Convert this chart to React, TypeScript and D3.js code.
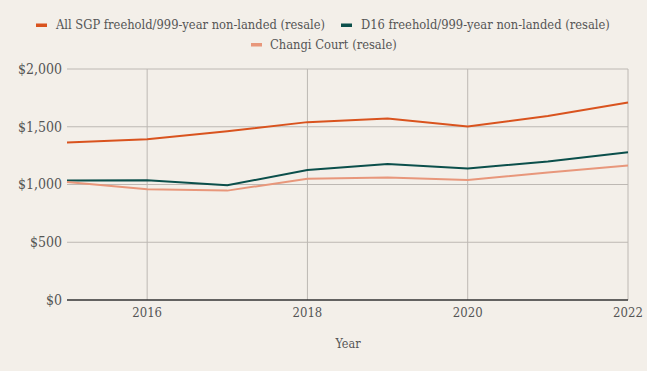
import React from "react";
import * as d3 from "d3";

const years = [2015, 2016, 2017, 2018, 2019, 2020, 2021, 2022];
const allSgp = [1363, 1392, 1462, 1540, 1571, 1502, 1594, 1710];
const d16 = [1034, 1037, 994, 1125, 1178, 1138, 1200, 1280];
const changi = [1022, 959, 947, 1050, 1060, 1040, 1103, 1164];
const yTicks = [0, 500, 1000, 1500, 2000];
const xTicks = [2016, 2018, 2020, 2022];

const seriesNames = [
  "All SGP freehold/999-year non-landed (resale)",
  "D16 freehold/999-year non-landed (resale)",
  "Changi Court (resale)",
];
const seriesColors = ["#d9531e", "#0b4f4b", "#e8977b"];

const W = 647;
const H = 371;
const FONT = "'DejaVu Serif Condensed', 'DejaVu Serif', serif";

export default function App() {
  const x = d3.scaleLinear().domain([2015, 2022]).range([67, 628]);
  const y = d3.scaleLinear().domain([0, 2000]).range([300, 69]);
  const seriesData = [allSgp, d16, changi];
  const line = d3
    .line<number>()
    .x((_, i) => x(years[i]))
    .y((v) => y(v));
  const fmt = (v: number) => "$" + d3.format(",")(v);

  const legendItems = [
    { i: 0, mx: 36, tx: 56, ty: 25 },
    { i: 1, mx: 341, tx: 361, ty: 25 },
    { i: 2, mx: 251, tx: 270, ty: 44.5 },
  ];

  return (
    <svg
      width={W}
      height={H}
      style={{ position: "absolute", left: 0, top: 0, background: "#f3efe9" }}
    >
      <rect x={0} y={0} width={W} height={H} fill="#f3efe9" />
      {yTicks.map((t) => (
        <g key={"y" + t}>
          {t !== 0 && (
            <line x1={67} x2={628} y1={y(t)} y2={y(t)} stroke="#bdb8b3" strokeWidth={1} />
          )}
          <text
            x={62}
            y={y(t)}
            dy="0.35em"
            textAnchor="end"
            fontFamily={FONT}
            fontSize={14}
            fill="#555"
          >
            {fmt(t)}
          </text>
        </g>
      ))}
      {xTicks.map((t) => (
        <g key={"x" + t}>
          <line x1={x(t)} x2={x(t)} y1={69} y2={300} stroke="#bdb8b3" strokeWidth={1} />
          <text
            x={x(t)}
            y={317}
            textAnchor="middle"
            fontFamily={FONT}
            fontSize={13}
            fill="#555"
          >
            {t}
          </text>
        </g>
      ))}
      <line x1={67} x2={628} y1={y(0)} y2={y(0)} stroke="#333" strokeWidth={1.5} />
      {seriesData.map((d, i) => (
        <path
          key={"s" + i}
          d={line(d) || ""}
          fill="none"
          stroke={seriesColors[i]}
          strokeWidth={2}
        />
      ))}
      <text
        x={348}
        y={348}
        textAnchor="middle"
        fontFamily={FONT}
        fontSize={12.5}
        fill="#555"
      >
        Year
      </text>
      {legendItems.map((l) => (
        <g key={"l" + l.i}>
          <rect x={l.mx} y={l.ty - 1.5} width={11} height={3.5} fill={seriesColors[l.i]} />
          <text
            x={l.tx}
            y={l.ty}
            dy="0.35em"
            fontFamily={FONT}
            fontSize={12.8}
            fill="#555"
          >
            {seriesNames[l.i]}
          </text>
        </g>
      ))}
    </svg>
  );
}
